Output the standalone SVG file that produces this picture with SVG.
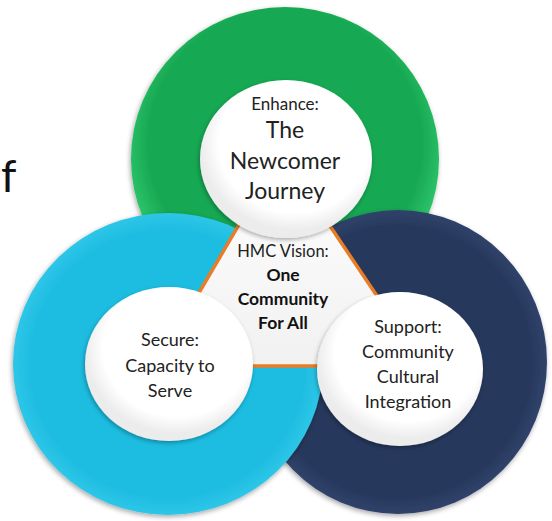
<svg xmlns="http://www.w3.org/2000/svg" width="552" height="521" viewBox="0 0 552 521">
<defs>
<filter id="sh" x="-20%" y="-20%" width="140%" height="140%">
<feDropShadow dx="-1" dy="2" stdDeviation="2.5" flood-color="#000" flood-opacity="0.35"/>
</filter>
<filter id="shi" x="-20%" y="-20%" width="140%" height="140%">
<feDropShadow dx="-1" dy="2" stdDeviation="2" flood-color="#000" flood-opacity="0.3"/>
</filter>
<radialGradient id="gG" cx="50%" cy="45%" r="52%">
<stop offset="0.85" stop-color="#17a852"/>
<stop offset="1" stop-color="#2cc46a"/>
</radialGradient>
<radialGradient id="gC" cx="50%" cy="50%" r="52%">
<stop offset="0.85" stop-color="#1ebde1"/>
<stop offset="1" stop-color="#33c9ea"/>
</radialGradient>
<radialGradient id="gN" cx="50%" cy="50%" r="52%">
<stop offset="0.85" stop-color="#27375c"/>
<stop offset="1" stop-color="#33476f"/>
</radialGradient>
<radialGradient id="gW" cx="55%" cy="40%" r="55%">
<stop offset="0.8" stop-color="#ffffff"/>
<stop offset="1" stop-color="#ececec"/>
</radialGradient>
<linearGradient id="gT" x1="0" y1="0" x2="0" y2="1">
<stop offset="0" stop-color="#ffffff"/>
<stop offset="1" stop-color="#f1f1f1"/>
</linearGradient>
<style>
.t{font-family:Lato,"Open Sans","Liberation Sans",sans-serif;fill:#222;text-anchor:middle}
.b{font-weight:bold;fill:#111}
.inner{fill:url(#gW);filter:url(#shi)}
</style>
</defs>
<rect width="552" height="521" fill="#fff"/>
<text x="1" y="192" style="font-family:Lato,'Open Sans','Liberation Sans',sans-serif;font-size:44px;fill:#111">f</text>
<g id="ring-green"><ellipse cx="285" cy="159" rx="154" ry="152" fill="url(#gG)" filter="url(#sh)"/></g>
<g id="ring-navy"><ellipse cx="398" cy="362" rx="149" ry="152" fill="url(#gN)" filter="url(#sh)"/></g>
<g id="ring-cyan"><ellipse cx="168" cy="364" rx="155" ry="151" fill="url(#gC)" filter="url(#sh)"/></g>
<g id="center">
<polygon points="281,153 156,366 424,366" fill="url(#gT)" stroke="#e97c26" stroke-width="3.5" stroke-linejoin="round"/>
</g>
<g id="node-enhance">
<ellipse class="inner" cx="286" cy="159" rx="86" ry="79"/>
<text class="t" x="285" y="110" font-size="17">Enhance:</text>
<text class="t" x="285" y="138" font-size="23">The</text>
<text class="t" x="285" y="169" font-size="23">Newcomer</text>
<text class="t" x="285" y="199" font-size="23">Journey</text>
</g>
<g id="node-secure">
<ellipse class="inner" cx="169" cy="364" rx="84" ry="77"/>
<text class="t" x="170" y="346" font-size="18">Secure:</text>
<text class="t" x="170" y="372" font-size="18">Capacity to</text>
<text class="t" x="170" y="397" font-size="18">Serve</text>
</g>
<g id="node-support">
<ellipse class="inner" cx="400" cy="369" rx="83" ry="77"/>
<text class="t" x="408" y="333" font-size="18">Support:</text>
<text class="t" x="408" y="358" font-size="18">Community</text>
<text class="t" x="408" y="383" font-size="18">Cultural</text>
<text class="t" x="408" y="408" font-size="18">Integration</text>
</g>
<g id="center-text">
<text class="t" x="283" y="257" font-size="16.5">HMC Vision:</text>
<text class="t b" x="283" y="281" font-size="17.5">One</text>
<text class="t b" x="283" y="305" font-size="17.5">Community</text>
<text class="t b" x="283" y="329" font-size="17.5">For All</text>
</g>
</svg>
